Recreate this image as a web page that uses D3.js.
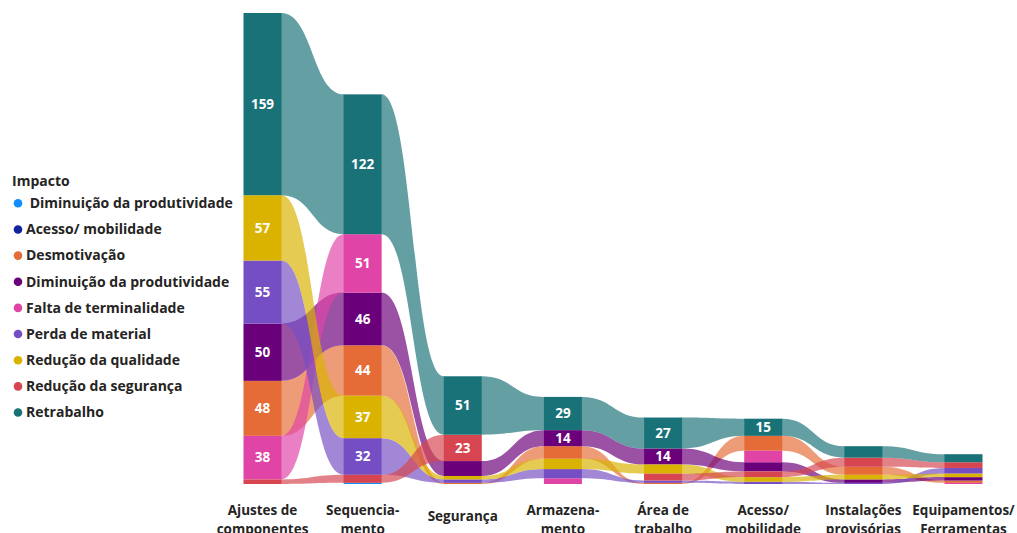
<!DOCTYPE html>
<html><head><meta charset="utf-8">
<script src="https://cdn.jsdelivr.net/npm/d3@7"></script>
<style>body{margin:0;background:#fff;overflow:hidden} svg{display:block}</style>
</head><body><svg id="c" width="1017" height="533"></svg>
<script>
// ---- data ----
const categories = ["Ajustes de componentes","Sequenciamento","Segurança","Armazenamento","Área de trabalho","Acesso/ mobilidade","Instalações provisórias","Equipamentos/ Ferramentas"];
const categoryLines = [["Ajustes de","componentes"],["Sequencia-","mento"],["Segurança"],["Armazena-","mento"],["Área de","trabalho"],["Acesso/","mobilidade"],["Instalações","provisórias"],["Equipamentos/","Ferramentas"]];
const seriesNames = [" Diminuição da produtividade","Acesso/ mobilidade","Desmotivação","Diminuição da produtividade","Falta de terminalidade","Perda de material","Redução da qualidade","Redução da segurança","Retrabalho"];
const seriesColors = ["#118DFF","#12239E","#E66C37","#6B007B","#E044A7","#744EC2","#D9B300","#D64550","#197278"];
const diminuicaoProdutividadeA = [0,1,0,0,0,0,0,0];
const acessoMobilidade        = [0,0,0,0,0,0,0,0];
const desmotivacao            = [48,44,1,11,1,13,7,2];
const diminuicaoProdutividade = [50,46,13,14,14,8,3,3];
const faltaTerminalidade      = [38,51,0,5,0,10,0,1];
const perdaMaterial           = [55,32,3,8,2,2,1,5];
const reducaoQualidade        = [57,37,3,9,8,4,4,3];
const reducaoSeguranca        = [4,7,23,0,6,5,8,5];
const retrabalho              = [159,122,51,29,27,15,10,7];
const seriesValues = [diminuicaoProdutividadeA,acessoMobilidade,desmotivacao,diminuicaoProdutividade,faltaTerminalidade,perdaMaterial,reducaoQualidade,reducaoSeguranca,retrabalho];

// ---- layout ----
const svg = d3.select("#c");
const barW = 38;
const x = d3.scalePoint().domain(categories).range([262.5, 963.5]);
const totals = categories.map((c,ci)=>d3.sum(seriesValues, s=>s[ci]));
const y = d3.scaleLinear().domain([0, d3.max(totals)]).range([484, 13]);

// stack positions: largest on top; ties -> higher index on top
const pos = seriesValues.map(()=>categories.map(()=>null));
categories.forEach((c,ci)=>{
  const idx = seriesValues.map((s,si)=>si).filter(si=>seriesValues[si][ci]>0);
  idx.sort((a,b)=> (seriesValues[a][ci]-seriesValues[b][ci]) || (a-b));
  let acc = 0;
  idx.forEach(si=>{ const v=seriesValues[si][ci]; pos[si][ci]=[acc, acc+v]; acc+=v; });
});

// ribbons
const gR = svg.append("g");
seriesValues.forEach((s,si)=>{
  for(let ci=0; ci<categories.length-1; ci++){
    const a = pos[si][ci], b = pos[si][ci+1];
    if(!a || !b) continue;
    const x1 = x(categories[ci]) + barW/2, x2 = x(categories[ci+1]) - barW/2, xm=(x1+x2)/2;
    const p = d3.path();
    p.moveTo(x1-0.5, y(a[1]));
    p.lineTo(x1, y(a[1]));
    p.bezierCurveTo(xm, y(a[1]), xm, y(b[1]), x2, y(b[1]));
    p.lineTo(x2+0.5, y(b[1]));
    p.lineTo(x2+0.5, y(b[0]));
    p.lineTo(x2, y(b[0]));
    p.bezierCurveTo(xm, y(b[0]), xm, y(a[0]), x1, y(a[0]));
    p.lineTo(x1-0.5, y(a[0]));
    p.closePath();
    gR.append("path").attr("d", p.toString()).attr("fill", seriesColors[si]).attr("fill-opacity", 0.68);
  }
});

// bars
const gB = svg.append("g");
seriesValues.forEach((s,si)=>{
  categories.forEach((c,ci)=>{
    const a = pos[si][ci]; if(!a) return;
    gB.append("rect").attr("x", x(c)-barW/2).attr("width", barW)
      .attr("y", y(a[1])).attr("height", y(a[0])-y(a[1]))
      .attr("fill", seriesColors[si]);
    if(s[ci] >= 14){
      gB.append("text").attr("x", x(c)).attr("y", (y(a[0])+y(a[1]))/2 + 4.8)
        .attr("text-anchor","middle").attr("fill","#fff")
        .style("font-family","'Open Sans', sans-serif").style("font-weight","700").style("font-size","13.5px")
        .text(s[ci]);
    }
  });
});

// category axis labels
const gA = svg.append("g").style("font-family","'Open Sans', sans-serif").style("font-weight","700").style("font-size","13.5px").attr("fill","#252423");
categoryLines.forEach((lines,ci)=>{
  const t = gA.append("text").attr("x", x(categories[ci])).attr("text-anchor","middle");
  if(lines.length===1){
    t.attr("y", 521).text(lines[0]);
  } else {
    lines.forEach((l,li)=>t.append("tspan").attr("x", x(categories[ci])).attr("y", 515 + li*19).text(l));
  }
});

// legend
const gL = svg.append("g").style("font-family","'Open Sans', sans-serif").style("font-weight","700").style("font-size","14px").attr("fill","#252423");
gL.append("text").attr("x", 12).attr("y", 186).text("Impacto");
seriesNames.forEach((n,i)=>{
  const cy = 203.3 + i*26.15;
  gL.append("circle").attr("cx", 18).attr("cy", cy).attr("r", 4.3).attr("fill", seriesColors[i]);
  gL.append("text").attr("x", 26).attr("y", cy+4.8).style("white-space","pre").text(n);
});
</script>
</body></html>
